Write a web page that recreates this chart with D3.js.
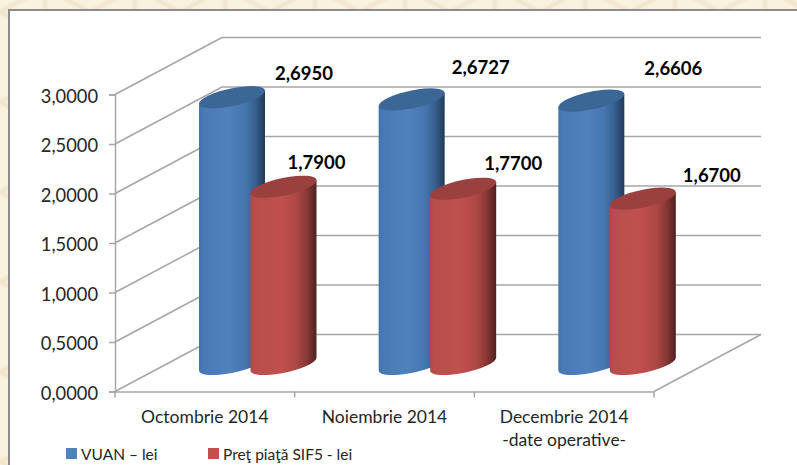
<!DOCTYPE html>
<html><head><meta charset="utf-8">
<script src="https://cdn.jsdelivr.net/npm/d3@7"></script>
<style>html,body{margin:0;padding:0;background:#fff}svg{display:block}text{font-family:Lato,"Open Sans",sans-serif}</style>
</head><body><div id="c"></div>
<script>
const categories=["Octombrie 2014","Noiembrie 2014","Decembrie 2014"];
const categorySub=["","","-date operative-"];
const seriesNames=["VUAN – lei","Preţ piaţă SIF5 - lei"];
const vuan=[2.6950,2.6727,2.6606];
const pret=[1.7900,1.7700,1.6700];
const yTicks=[0,0.5,1,1.5,2,2.5,3];
const labelNudge=[[[72,-23],[69,-31],[82,-32]],[[33,-24],[50,-25],[69,-23]]];

const W=797,H=465;
const svg=d3.select("#c").append("svg").attr("width",W).attr("height",H);
const defs=svg.append("defs");

// background
defs.append("filter").attr("id","soft").append("feGaussianBlur").attr("stdDeviation",1.6);
const pat=defs.append("pattern").attr("id","bgp").attr("patternUnits","userSpaceOnUse").attr("width",90).attr("height",90).attr("x",0).attr("y",-12);
pat.append("rect").attr("width",90).attr("height",90).attr("fill","#f8f2df");
pat.append("path").attr("d","M0,24 L45,0 L90,24 M0,24 L45,48 L90,24 M45,0V48").attr("fill","none").attr("stroke","#eee0c3").attr("stroke-width",3).attr("filter","url(#soft)");
svg.append("rect").attr("width",W).attr("height",H).attr("fill","url(#bgp)");
svg.append("rect").attr("x",9).attr("y",10).attr("width",W+20).attr("height",H+20).attr("fill","#fff").attr("stroke","#8c8c8c").attr("stroke-width",2);

const depth={x:107,y:-57};
const y=d3.scaleLinear().domain([0,3]).range([391.5,94.5]);
const x=d3.scaleBand().domain(categories).range([115,654]);
const grid="#a6a6a6";

// walls
const g=svg.append("g").attr("fill","none").attr("stroke",grid).attr("stroke-width",1.5);
g.selectAll(".side").data(yTicks).join("line").attr("x1",115).attr("y1",d=>y(d)).attr("x2",115+depth.x).attr("y2",d=>y(d)+depth.y);
g.selectAll(".back").data(yTicks).join("line").attr("x1",115+depth.x).attr("y1",d=>y(d)+depth.y).attr("x2",654+depth.x).attr("y2",d=>y(d)+depth.y);
g.append("line").attr("x1",654).attr("y1",y(0)).attr("x2",654+depth.x).attr("y2",y(0)+depth.y);

// axes
const fmt=d3.formatLocale({decimal:",",thousands:".",grouping:[3],currency:["",""]}).format(".4f");
const ya=svg.append("g").attr("transform","translate(115,0)").call(d3.axisLeft(y).tickValues(yTicks).tickFormat(fmt).tickSize(6).tickPadding(11));
ya.selectAll("text").attr("fill","#262626").attr("font-size",18.3).attr("dy","0.42em");
const xa=svg.append("g").attr("transform",`translate(0,${y(0)})`).call(d3.axisBottom(x).tickSize(0).tickPadding(19));
xa.selectAll("text").attr("fill","#262626").attr("font-size",17.5);
xa.selectAll(".tick").filter((d,i)=>categorySub[i]).append("text").attr("y",54).attr("fill","#262626").attr("font-size",17.5).attr("text-anchor","middle").text((d)=>categorySub[categories.indexOf(d)]);
xa.selectAll(".edge").data(d3.range(4)).join("line").attr("x1",i=>115+i*x.step()).attr("x2",i=>115+i*x.step()).attr("y1",0).attr("y2",6).attr("stroke",grid).attr("stroke-width",1.5);
[ya,xa].forEach(a=>a.selectAll(".domain,.tick line").attr("stroke",grid).attr("stroke-width",1.5));

// cylinders
function grad(id,stops){const l=defs.append("linearGradient").attr("id",id);stops.forEach(([o,c])=>l.append("stop").attr("offset",o).attr("stop-color",c));}
grad("gb",[[0,"#4273ad"],[.08,"#4a7ab5"],[.45,"#4f81bd"],[.7,"#4676ae"],[.85,"#38608f"],[1,"#213a59"]]);
grad("gr",[[0,"#b04a47"],[.08,"#b84f4c"],[.45,"#c0504d"],[.7,"#ad4845"],[.85,"#8a3836"],[1,"#4f2020"]]);
const rx=33,ry=9,skew=-6.5/33,baseShift=-27.5;
const offsets=[84,135.5];
const series=[{v:vuan,grad:"gb",top:"#3b6797"},{v:pret,grad:"gr",top:"#9a403e"}];
categories.forEach((c,i)=>{
  series.forEach((s,j)=>{
    const cx=x(c)+offsets[j]+rx, base=y(0)+baseShift, top=y(s.v[i])+baseShift;
    const b=svg.append("g").attr("transform",`matrix(1,${skew},0,1,${cx},0)`);
    b.append("path").attr("d",`M${-rx},${top}V${base}A${rx},${ry} 0 0 0 ${rx},${base}V${top}Z`).attr("fill",`url(#${s.grad})`);
    b.append("ellipse").attr("cx",0).attr("cy",top).attr("rx",rx).attr("ry",ry).attr("fill",s.top);
  });
});

// data labels
series.forEach((s,j)=>s.v.forEach((v,i)=>{
  svg.append("text").attr("x",x(categories[i])+offsets[j]+rx+labelNudge[j][i][0]).attr("y",y(v)+baseShift+labelNudge[j][i][1]+6)
    .attr("text-anchor","middle").attr("font-weight",700).attr("font-size",18.5).attr("fill","#000").text(fmt(v));
}));

// legend
const lx=d3.scaleOrdinal().domain(seriesNames).range([66,208]);
const lc=d3.scaleOrdinal().domain(seriesNames).range(["#4f81bd","#c0504d"]);
seriesNames.forEach(n=>{
  svg.append("rect").attr("x",lx(n)).attr("y",448).attr("width",11).attr("height",11).attr("fill",lc(n));
  svg.append("text").attr("x",lx(n)+15).attr("y",460).attr("font-size",15.5).attr("fill","#262626").text(n);
});
</script></body></html>
